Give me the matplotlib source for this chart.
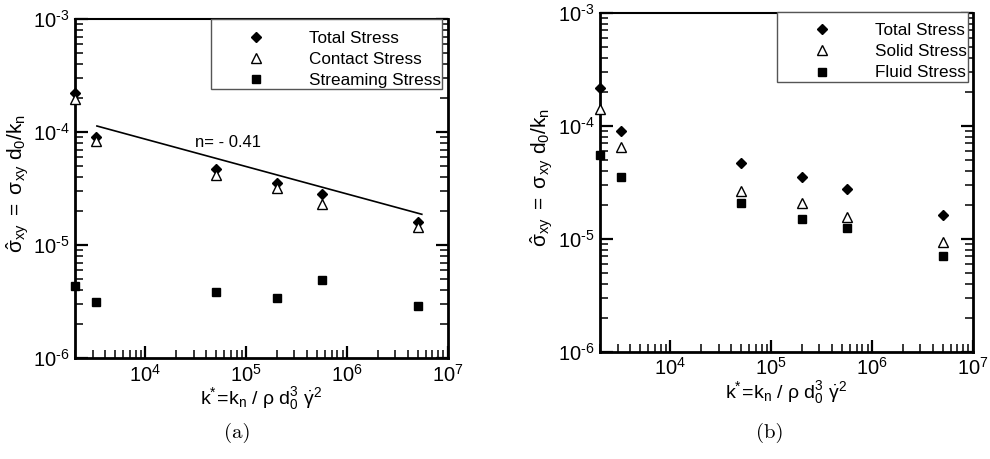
import matplotlib
matplotlib.use("Agg")
import math
import matplotlib.pyplot as plt
from matplotlib.ticker import FixedLocator, NullFormatter, FuncFormatter

plt.rcParams['font.family'] = ['Liberation Sans', 'DejaVu Sans']
plt.rcParams['mathtext.fontset'] = 'custom'
plt.rcParams['mathtext.rm'] = 'Liberation Sans'
plt.rcParams['mathtext.it'] = 'Liberation Sans:italic'
plt.rcParams['mathtext.bf'] = 'Liberation Sans:bold'
plt.rcParams['mathtext.sf'] = 'Liberation Sans'

# ---- data ----
k_star = [2000, 3200, 5.0e4, 2.0e5, 5.6e5, 5.0e6]

# panel (a)
total_a = [2.2e-4, 9.1e-5, 4.7e-5, 3.55e-5, 2.8e-5, 1.6e-5]
contact_a = [1.96e-4, 8.4e-5, 4.2e-5, 3.2e-5, 2.3e-5, 1.45e-5]
streaming_a = [4.35e-6, 3.1e-6, 3.8e-6, 3.4e-6, 4.9e-6, 2.9e-6]
fit_x = [3.3e3, 5.5e6]
fit_y = [1.13e-4, 1.87e-5]
fit_label = "n= - 0.41"

# panel (b)
total_b = [2.17e-4, 9.0e-5, 4.65e-5, 3.55e-5, 2.78e-5, 1.62e-5]
solid_b = [1.41e-4, 6.45e-5, 2.62e-5, 2.09e-5, 1.55e-5, 9.3e-6]
fluid_b = [5.5e-5, 3.5e-5, 2.08e-5, 1.5e-5, 1.25e-5, 7.0e-6]

labels_a = ["Total Stress", "Contact Stress", "Streaming Stress"]
labels_b = ["Total Stress", "Solid Stress", "Fluid Stress"]

xlabel = r'$\mathregular{k^{*}\!=\!k_{n}\ /\ \rho\ d_{0}^{3}\ \dot{\gamma}^{2}}$'
ylabel = r'$\mathregular{\hat{\sigma}_{xy}\ =\ \sigma_{xy}\ d_{0}/k_{n}}$'

xlim = (2000, 1e7)
ylim = (1e-6, 1e-3)
x_major = [1e4, 1e5, 1e6, 1e7]
y_major = [1e-6, 1e-5, 1e-4, 1e-3]
x_minor = [m * 10.0 ** e for e in range(3, 7) for m in range(2, 10)]
y_minor = [m * 10.0 ** e for e in range(-6, -3) for m in range(2, 10)]


def pow_label(v, pos):
    e = int(round(math.log10(v)))
    s = str(e).replace('-', '\u2010')
    return r'$\mathregular{10^{%s}}$' % s


fig = plt.figure(figsize=(9.9, 4.59), dpi=100)
ax1 = fig.add_axes([75/990, (459-358)/459, 373/990, 339/459])
ax2 = fig.add_axes([600/990, (459-351.7)/459, 373/990, 339/459])


def style(ax, ylab_x):
    ax.set_xscale('log')
    ax.set_yscale('log')
    ax.set_xlim(*xlim)
    ax.set_ylim(*ylim)
    for s in ax.spines.values():
        s.set_linewidth(2.0)
    ax.spines['top'].set_linewidth(1.5)
    ax.xaxis.set_major_locator(FixedLocator(x_major))
    ax.yaxis.set_major_locator(FixedLocator(y_major))
    ax.xaxis.set_major_formatter(FuncFormatter(pow_label))
    ax.yaxis.set_major_formatter(FuncFormatter(pow_label))
    ax.xaxis.set_minor_locator(FixedLocator(x_minor))
    ax.yaxis.set_minor_locator(FixedLocator(y_minor))
    ax.xaxis.set_minor_formatter(NullFormatter())
    ax.yaxis.set_minor_formatter(NullFormatter())
    ax.tick_params(which='both', direction='in', top=False, right=True,
                   bottom=True, left=True, color='black')
    ax.tick_params(which='major', labelsize=14.5, pad=4, length=9, width=1.6)
    ax.tick_params(which='minor', length=6, width=1.1)
    ax.set_xlabel(xlabel, fontsize=14, labelpad=0)
    ax.set_ylabel(ylabel, fontsize=15)
    ax.yaxis.set_label_coords(ylab_x, 0.515)


style(ax1, -0.115)
style(ax2, -0.118)

mk = dict(linestyle='none', clip_on=False, zorder=5)
ax1.plot(k_star, total_a, marker='D', ms=5, color='black', label=labels_a[0], **mk)
ax1.plot(k_star, contact_a, marker='^', ms=6.5, mfc='white', mec='black', mew=1.0,
         label=labels_a[1], **mk)
ax1.plot(k_star, streaming_a, marker='s', ms=5.2, color='black', label=labels_a[2], **mk)
ax1.plot(fit_x, fit_y, color='black', lw=1.2)
ax1.text(3.1e4, 8.0e-5, fit_label, fontsize=12, ha='left', va='center')

ax2.plot(k_star, total_b, marker='D', ms=5, color='black', label=labels_b[0], **mk)
ax2.plot(k_star, solid_b, marker='^', ms=6.5, mfc='white', mec='black', mew=1.0,
         label=labels_b[1], **mk)
ax2.plot(k_star, fluid_b, marker='s', ms=5.2, color='black', label=labels_b[2], **mk)

leg_kw = dict(loc='upper right', fontsize=12.3, frameon=True, fancybox=False,
              framealpha=1, edgecolor='#555555', borderaxespad=0,
              handlelength=5.1, handletextpad=0.55, labelspacing=0.36,
              borderpad=0.08, numpoints=1, title=' ', title_fontsize=3)
l1 = ax1.legend(bbox_to_anchor=((442-75)/373, 1.0), **leg_kw)
l2 = ax2.legend(bbox_to_anchor=((968.3-600)/373, 1.003), **leg_kw)
for l in (l1, l2):
    l.get_frame().set_linewidth(1.0)

fig.text(237/990, 1 - 433/459, '(a)', fontsize=15, family='cmr10', ha='center', va='center')
fig.text(770/990, 1 - 433/459, '(b)', fontsize=15, family='cmr10', ha='center', va='center')

fig.savefig('out.png', dpi=100)
